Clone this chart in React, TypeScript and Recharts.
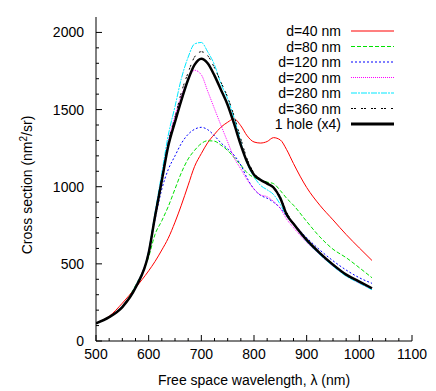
import { LineChart, Line, XAxis, YAxis, Legend } from "recharts";

// sampling grid (nm)
const wavelength = [500, 525, 550, 575, 600, 612, 625, 637, 650, 662, 675, 687, 700, 712, 725, 737, 750, 762, 775, 787, 800, 812, 825, 837, 850, 862, 875, 900, 925, 950, 975, 1000, 1024];

const d40 = [115, 160, 245, 345, 455, 515, 590, 665, 770, 880, 1010, 1130, 1215, 1285, 1340, 1385, 1418, 1440, 1395, 1330, 1290, 1283, 1293, 1318, 1303, 1240, 1150, 995, 880, 785, 690, 603, 522];
const d80 = [115, 155, 220, 360, 545, 690, 780, 870, 985, 1090, 1180, 1235, 1280, 1298, 1295, 1270, 1235, 1190, 1140, 1090, 1060, 1045, 1030, 1020, 975, 925, 880, 775, 675, 595, 540, 475, 410];
const d120 = [115, 155, 220, 350, 570, 785, 985, 1110, 1200, 1280, 1340, 1372, 1385, 1370, 1330, 1285, 1245, 1205, 1140, 1055, 985, 945, 925, 900, 860, 810, 760, 670, 590, 520, 460, 410, 374];
const d200 = [115, 155, 225, 355, 585, 820, 1070, 1290, 1460, 1590, 1690, 1755, 1725, 1620, 1505, 1400, 1290, 1190, 1115, 1045, 985, 948, 935, 905, 860, 790, 735, 640, 560, 485, 425, 375, 337];
const d280 = [115, 155, 225, 355, 585, 830, 1090, 1330, 1520, 1700, 1840, 1925, 1935, 1875, 1790, 1670, 1570, 1450, 1290, 1150, 1065, 1010, 980, 950, 885, 810, 755, 645, 560, 485, 420, 375, 332];
const d360 = [115, 155, 220, 350, 575, 815, 1060, 1285, 1450, 1610, 1740, 1840, 1875, 1850, 1770, 1680, 1580, 1460, 1310, 1180, 1090, 1050, 1025, 1000, 935, 835, 765, 650, 570, 490, 428, 382, 339];
const oneHole = [115, 155, 220, 345, 570, 805, 1040, 1260, 1420, 1560, 1695, 1790, 1830, 1800, 1720, 1630, 1530, 1410, 1270, 1160, 1078, 1045, 1020, 995, 925, 820, 760, 655, 570, 495, 430, 385, 342];

const xTicks = [500, 525, 550, 575, 600, 625, 650, 675, 700, 725, 750, 775, 800, 825, 850, 875, 900, 925, 950, 975, 1000, 1025, 1050, 1075, 1100];
const yTicks = [0, 100, 200, 300, 400, 500, 600, 700, 800, 900, 1000, 1100, 1200, 1300, 1400, 1500, 1600, 1700, 1800, 1900, 2000];

const series = [
  { name: "d=40 nm", values: d40, color: "#ff0000", dash: undefined, width: 1 },
  { name: "d=80 nm", values: d80, color: "#00e000", dash: "4 2", width: 1 },
  { name: "d=120 nm", values: d120, color: "#0000ff", dash: "2 2", width: 1 },
  { name: "d=200 nm", values: d200, color: "#ff00ff", dash: "1 1", width: 1 },
  { name: "d=280 nm", values: d280, color: "#00e8ff", dash: "6 1 2 1", width: 1 },
  { name: "d=360 nm", values: d360, color: "#000000", dash: "2 1 2 5", width: 1 },
  { name: "1 hole (x4)", values: oneHole, color: "#000000", dash: undefined, width: 2.5 },
];

const toPoints = (vals: number[]) => wavelength.map((x, i) => ({ x, y: vals[i] }));

const BottomTick = ({ x, y, payload }: any) => {
  const major = payload.value % 100 === 0;
  return (
    <g>
      <line x1={x} x2={x} y1={y} y2={y - (major ? 6 : 3)} stroke="#000" />
      {major && (
        <text x={x} y={y + 18} textAnchor="middle" fontSize={14} fill="#000">
          {payload.value}
        </text>
      )}
    </g>
  );
};

const TopTick = ({ x, y, payload }: any) => {
  const major = payload.value % 100 === 0;
  return <line x1={x} x2={x} y1={y} y2={y + (major ? 6 : 3)} stroke="#000" />;
};

const LeftTick = ({ x, y, payload }: any) => {
  const major = payload.value % 500 === 0;
  return (
    <g>
      <line x1={x} x2={x + (major ? 6 : 3)} y1={y} y2={y} stroke="#000" />
      {major && (
        <text x={x - 12} y={y + 5} textAnchor="end" fontSize={14} fill="#000">
          {payload.value}
        </text>
      )}
    </g>
  );
};

const RightTick = ({ x, y, payload }: any) => {
  const major = payload.value % 500 === 0;
  return <line x1={x} x2={x - (major ? 6 : 3)} y1={y} y2={y} stroke="#000" />;
};

const XLabel = ({ viewBox }: any) => (
  <text x={viewBox.x + viewBox.width / 2} y={viewBox.y + 44} textAnchor="middle" fontSize={14} fill="#000">
    Free space wavelength, λ (nm)
  </text>
);

const YLabel = ({ viewBox }: any) => {
  const cx = viewBox.x + 32;
  const cy = viewBox.y + viewBox.height / 2 + 6;
  return (
    <text x={cx} y={cy} transform={`rotate(-90 ${cx} ${cy})`} textAnchor="middle" fontSize={14} fill="#000">
      Cross section (nm
      <tspan dy={-5} fontSize={10}>2</tspan>
      <tspan dy={5}>/sr)</tspan>
    </text>
  );
};

const LegendBox = () => (
  <svg width={150} height={112}>
    {series.map((s, i) => {
      const cy = 8 + i * 15.5;
      return (
        <g key={s.name}>
          <text x={91} y={cy + 5} textAnchor="end" fontSize={14} fill="#000">
            {s.name}
          </text>
          <line x1={101} x2={144} y1={cy} y2={cy} stroke={s.color} strokeWidth={s.width === 1 ? 1.2 : 3} strokeDasharray={s.dash} />
        </g>
      );
    })}
  </svg>
);

export default function App() {
  return (
    <div style={{ position: "absolute", left: 0, top: 0, background: "#fff" }}>
      <LineChart
        width={436}
        height={391}
        margin={{ top: 17, right: 24, bottom: 0, left: 0 }}
        style={{ fontFamily: "'Liberation Sans', Arial, sans-serif" }}
      >
        <XAxis
          dataKey="x"
          type="number"
          domain={[500, 1100]}
          ticks={xTicks}
          interval={0}
          height={50}
          tickSize={0}
          tickMargin={0}
          tickLine={false}
          tick={<BottomTick />}
          axisLine={{ stroke: "#000" }}
          allowDataOverflow
          label={<XLabel />}
        />
        <XAxis
          xAxisId="top"
          orientation="top"
          dataKey="x"
          type="number"
          domain={[500, 1100]}
          ticks={xTicks}
          interval={0}
          height={0}
          tickSize={0}
          tickMargin={0}
          tickLine={false}
          tick={<TopTick />}
          axisLine={{ stroke: "#000" }}
          allowDataOverflow
        />
        <YAxis
          type="number"
          domain={[0, 2100]}
          ticks={yTicks}
          interval={0}
          width={96}
          tickSize={0}
          tickMargin={0}
          tickLine={false}
          tick={<LeftTick />}
          axisLine={{ stroke: "#000" }}
          allowDataOverflow
          label={<YLabel />}
        />
        <YAxis
          yAxisId="right"
          orientation="right"
          type="number"
          domain={[0, 2100]}
          ticks={yTicks}
          interval={0}
          width={0}
          tickSize={0}
          tickMargin={0}
          tickLine={false}
          tick={<RightTick />}
          axisLine={{ stroke: "#000" }}
          allowDataOverflow
        />
        <Legend
          layout="vertical"
          align="center"
          verticalAlign="middle"
          content={<LegendBox />}
          wrapperStyle={{ top: 23, left: 250, width: 150 }}
        />
        {series.map((s) => (
          <Line
            key={s.name}
            name={s.name}
            data={toPoints(s.values)}
            dataKey="y"
            type="monotone"
            stroke={s.color}
            strokeWidth={s.width}
            strokeDasharray={s.dash}
            dot={false}
            activeDot={false}
            isAnimationActive={false}
          />
        ))}
      </LineChart>
    </div>
  );
}
